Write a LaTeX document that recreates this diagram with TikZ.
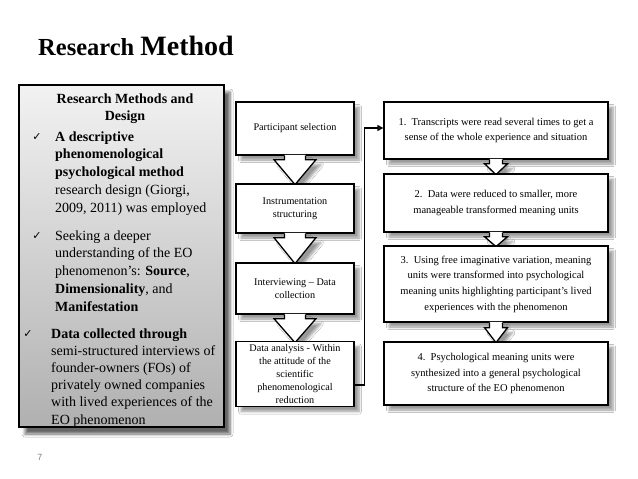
\documentclass[tikz,border=0pt]{standalone}
\usepackage{fontspec}
\setmainfont{Liberation Serif}
\newfontfamily\symfont{DejaVu Sans}
\newfontfamily\numfont{Liberation Sans}
\usetikzlibrary{shadows.blur,arrows.meta,calc}
\definecolor{lbtop}{RGB}{242,242,242}
\definecolor{lbbot}{RGB}{176,176,176}
% #1 source node, #2 total length to tip, #3 shaft half width, #4 head half width, #5 shaft length
\newcommand\blockarr[5]{%
 \path[fill=white,boxshadow] ($(#1.south)+(-#3,-0.7)$) -- ($(#1.south)+(-#3,#5)$) -- ($(#1.south)+(-#4,#5)$) -- ($(#1.south)+(0,#2)$) -- ($(#1.south)+(#4,#5)$) -- ($(#1.south)+(#3,#5)$) -- ($(#1.south)+(#3,-0.7)$) -- cycle;
 \draw[line width=1.3pt,line join=miter] ($(#1.south)+(-#3,0)$) -- ($(#1.south)+(-#3,#5)$) -- ($(#1.south)+(-#4,#5)$) -- ($(#1.south)+(0,#2)$) -- ($(#1.south)+(#4,#5)$) -- ($(#1.south)+(#3,#5)$) -- ($(#1.south)+(#3,0)$);
}
\begin{document}
\begin{tikzpicture}[x=1pt,y=-1pt,
  boxshadow/.style={blur shadow={shadow xshift=5pt,shadow yshift=-5pt,shadow blur radius=2.5pt,shadow blur steps=6,shadow opacity=40}},
  flowbox/.style={draw=black,line width=1.3pt,fill=white,boxshadow,align=center,inner xsep=2pt,inner ysep=1pt},
  midbox/.style={flowbox,minimum width=118pt,font=\fontsize{10.2}{13.2}\selectfont},
  rightbox/.style={flowbox,minimum width=224pt,font=\fontsize{10.5}{15.7}\selectfont},
  lefttext/.style={anchor=base west,inner sep=0pt,font=\fontsize{14}{17}\selectfont},
  lefthead/.style={anchor=base,inner sep=0pt,font=\fontsize{14}{17}\selectfont\bfseries},
  tick/.style={anchor=base,inner sep=0pt,font=\symfont\fontsize{11}{11}\selectfont},
]
\useasboundingbox[fill=white] (0,0) rectangle (638,479);

% title
\node[anchor=base west,inner sep=0pt] (title) at (38,55)
  {\bfseries\fontsize{24.5}{24}\selectfont Research \fontsize{28}{28}\selectfont Method};

% left box
\node[draw=black,line width=1.2pt,top color=lbtop,bottom color=lbbot,
  minimum width=205pt,minimum height=342pt,inner sep=0pt,
  blur shadow={shadow xshift=6pt,shadow yshift=-7pt,shadow blur radius=3pt,shadow blur steps=6,shadow opacity=60}]
  (LB) at (121.5,256) {};

\node[lefthead] (h1) at (125,103) {Research Methods and};
\node[lefthead] (h2) at (125,120) {Design};

\node[tick] (t1) at (37,140) {✓};
\node[lefttext] (a1) at (55,141) {\bfseries A descriptive};
\node[lefttext] (a2) at (55,158.8) {\bfseries phenomenological};
\node[lefttext] (a3) at (55,176.6) {\bfseries psychological method};
\node[lefttext] (a4) at (55,194.4) {research design (Giorgi,};
\node[lefttext] (a5) at (55,212.2) {2009, 2011) was employed};

\node[tick] (t2) at (37,239) {✓};
\node[lefttext] (b1) at (55,240) {Seeking a deeper};
\node[lefttext] (b2) at (55,257.8) {understanding of the EO};
\node[lefttext] (b3) at (55,275.6) {phenomenon’s: \textbf{Source},};
\node[lefttext] (b4) at (55,293.4) {\textbf{Dimensionality}, and};
\node[lefttext] (b5) at (55,311.2) {\bfseries Manifestation};

\node[tick] (t3) at (28,337) {✓};
\node[lefttext] (c1) at (51,338) {\bfseries Data collected through};
\node[lefttext] (c2) at (51,355.2) {semi-structured interviews of};
\node[lefttext] (c3) at (51,372.4) {founder-owners (FOs) of};
\node[lefttext] (c4) at (51,389.6) {privately owned companies};
\node[lefttext] (c5) at (51,406.8) {with lived experiences of the};
\node[lefttext] (c6) at (51,424) {EO phenomenon};

% flow boxes
\node[midbox,minimum height=53pt] (M1) at (295,128.5) {Participant selection};
\node[rightbox,minimum height=57pt] (R1) at (496,130.5)
  {1.\ \ Transcripts were read several times to get a\\sense of the whole experience and situation};
\blockarr{M1}{29}{10.5}{21}{4}
\blockarr{R1}{15}{6.5}{11.5}{4}
\node[midbox,minimum height=49pt] (M2) at (295,208.5) {Instrumentation\\structuring};
\node[rightbox,minimum height=58pt] (R2) at (496,203)
  {2.\ \ Data were reduced to smaller, more\\manageable transformed meaning units};
\blockarr{M2}{30}{10.5}{21}{4}
\blockarr{R2}{14}{6.5}{11.5}{4}
\node[midbox,minimum height=51pt] (M3) at (295,288.5) {Interviewing – Data\\collection};
\node[rightbox,minimum height=76pt] (R3) at (496,284)
  {3.\ \ Using free imaginative variation, meaning\\units were transformed into psychological\\meaning units highlighting participant’s lived\\experiences with the phenomenon};
\blockarr{M3}{28}{10.5}{21}{4}
\blockarr{R3}{20}{6.5}{11.5}{5}
\node[midbox,minimum height=65pt] (M4) at (295,374)
  {Data analysis - Within\\the attitude of the\\scientific\\phenomenological\\reduction};
\node[rightbox,minimum height=63pt] (R4) at (496,373.5)
  {4.\ \ Psychological meaning units were\\synthesized into a general psychological\\structure of the EO phenomenon};

% connector
\draw[line width=1.3pt,-{Triangle[length=6pt,width=6pt]}]
  ($(M4.east)+(0,11)$) -- ++(10,0) |- ($(R1.west)+(0,-2.5)$);

% page number
\node[text=gray,font=\numfont\fontsize{9}{9}\selectfont] (pg) at (40,457) {7};
\end{tikzpicture}
\end{document}
